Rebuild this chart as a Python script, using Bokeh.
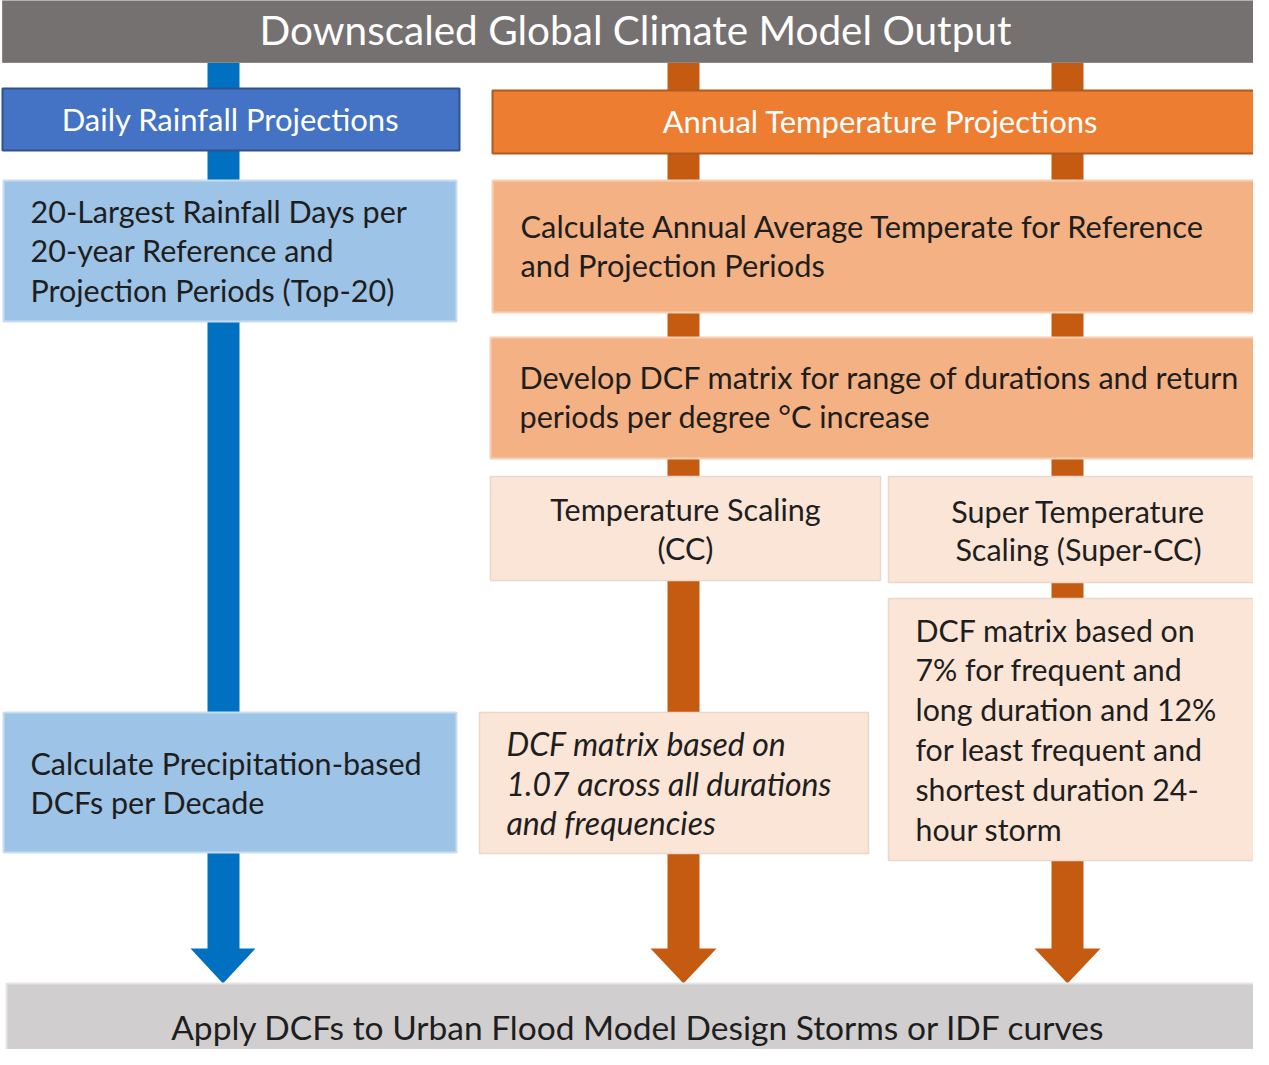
from bokeh.plotting import figure
from bokeh.models import Range1d, ColumnDataSource
from bokeh.core.properties import value
from bokeh.embed import file_html
from bokeh.resources import INLINE

# ---- content (texts) ----
title_text = "Downscaled Global Climate Model Output"
rain_header = "Daily Rainfall Projections"
temp_header = "Annual Temperature Projections"
rain_step1 = ["20-Largest Rainfall Days per", "20-year Reference and", "Projection Periods (Top-20)"]
rain_step2 = ["Calculate Precipitation-based", "DCFs per Decade"]
temp_step1 = ["Calculate Annual Average Temperate for Reference", "and Projection Periods"]
temp_step2 = ["Develop DCF matrix for range of durations and return", "periods per degree \u00b0C increase"]
cc_header = ["Temperature Scaling", "(CC)"]
scc_header = ["Super Temperature", "Scaling (Super-CC)"]
cc_result = ["DCF matrix based on", "1.07 across all durations", "and frequencies"]
scc_result = ["DCF matrix based on", "7% for frequent and", "long duration and 12%", "for least frequent and",
              "shortest duration 24-", "hour storm"]
bottom_text = "Apply DCFs to Urban Flood Model Design Storms or IDF curves"

# ---- layout (pixel-space of the diagram, y downward) ----
W, H = 1253, 1049
FONT = "Lato"

p = figure(width=W, height=H, x_range=Range1d(0, W), y_range=Range1d(H, 0),
           output_backend="svg", toolbar_location=None, tools="", min_border=0)
p.axis.visible = False
p.grid.visible = False
p.outline_line_color = None
p.background_fill_color = "white"

BLUE_LINE = "#0070C0"
ORANGE_LINE = "#C55A11"

# shafts
shafts = ColumnDataSource(dict(
    left=[207, 667, 1051], right=[239, 699, 1083],
    top=[62, 62, 62], bottom=[950, 950, 950],
    color=[BLUE_LINE, ORANGE_LINE, ORANGE_LINE]))
p.quad(left="left", right="right", top="top", bottom="bottom", fill_color="color",
       line_color=None, source=shafts)

# arrow heads
heads = ColumnDataSource(dict(
    xs=[[190, 255, 222.5], [650, 716, 683], [1034, 1100, 1067]],
    ys=[[948, 948, 983], [948, 948, 983], [948, 948, 983]],
    color=[BLUE_LINE, ORANGE_LINE, ORANGE_LINE]))
p.patches(xs="xs", ys="ys", fill_color="color", line_color=None, source=heads)

# boxes
boxes = ColumnDataSource(dict(
    left=[2, 2, 492, 3, 492, 490, 490, 888, 888, 479, 3, 6],
    right=[1269, 459, 1269, 456, 1269, 1269, 880, 1267, 1259, 868, 456, 1269],
    top=[0, 88, 90, 180, 180, 337, 476, 476, 598, 712, 712, 983],
    bottom=[62, 150, 153, 321, 312, 458, 580, 582, 860, 853, 852, 1065],
    fill=["#767171", "#4472C4", "#ED7D31", "#9DC3E6", "#F4B183", "#F4B183",
          "#FBE5D6", "#FBE5D6", "#FBE5D6", "#FBE5D6", "#9DC3E6", "#D0CECE"],
    line=["#8a8686", "#2F528F", "#AE5A21", "#C9DDF0", "#F8CFB4", "#F8CFB4",
          "#E9D8CC", "#E9D8CC", "#E9D8CC", "#E9D8CC", "#C9DDF0", "#E6E4E4"],
    lw=[1, 2, 2, 2, 2, 2, 1.5, 1.5, 1.5, 1.5, 2, 2]))
p.quad(left="left", right="right", top="top", bottom="bottom", fill_color="fill",
       line_color="line", line_width="lw", source=boxes)

DARK = "#1e1e1e"


def lines(texts, x, y0, step, align, size, color=DARK, style="normal"):
    ys = [y0 - 2 + i * step for i in range(len(texts))]
    p.text(x=[x] * len(texts), y=ys, text=texts, text_align=align, text_baseline="middle",
           text_font=value(FONT), text_font_size=size, text_color=color,
           text_font_style=style)


lines([title_text], 635, 31, 0, "center", "40.5px", "white")
lines([rain_header], 230, 120, 0, "center", "31px", "white")
lines([temp_header], 880, 122, 0, "center", "31px", "white")
lines(rain_step1, 30, 212, 39.5, "left", "30.5px")
lines(temp_step1, 520, 228, 39, "left", "30.8px")
lines(temp_step2, 519, 379, 39, "left", "30.6px")
lines(cc_header, 685, 510, 39, "center", "30.5px")
lines(scc_header, 1078, 512, 38, "center", "30.5px")
lines(scc_result, 915, 631, 39.8, "left", "30.3px")
lines(cc_result, 506, 745, 39.5, "left", "32px", style="italic")
lines(rain_step2, 30, 764, 39, "left", "30.5px")
lines([bottom_text], 638, 1028, 0, "center", "33.5px")

open("out.html", "w").write(file_html(p, INLINE))
